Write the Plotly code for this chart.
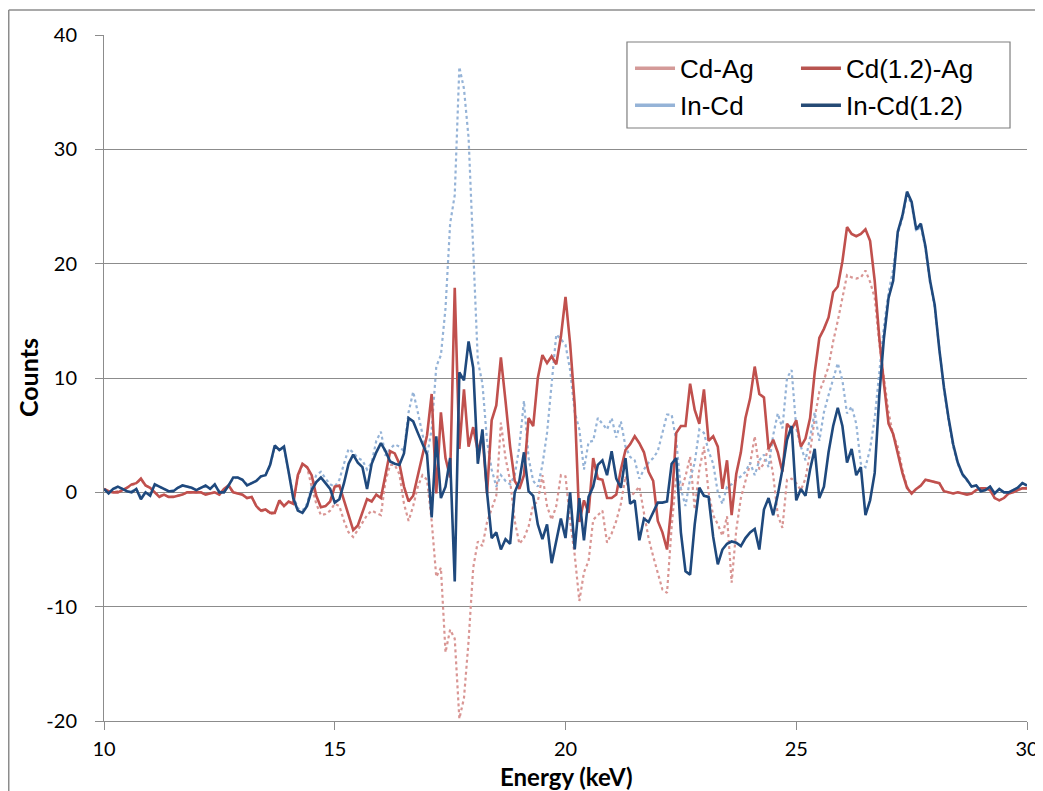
import plotly.graph_objects as go

# Energy grid (keV), 0.1 keV steps from 10 to 30
energy = [round(10 + 0.1 * i, 1) for i in range(201)]

cd_ag = [
    0.3, 0.1, 0.0, 0.1, 0.2, 0.4, 0.6, 0.8, 1.1, 0.6,
    0.4, 0.0, -0.3, -0.2, -0.4, -0.4, -0.3, -0.2, 0.0, 0.0,
    0.0, 0.0, -0.2, -0.1, 0.0, -0.2, 0.3, 0.5, 0.0, -0.1,
    -0.2, -0.5, -0.4, -1.2, -1.7, -1.5, -1.9, -1.8, -0.8, -1.2,
    -0.8, -1.0, 1.3, 2.4, 2.2, 0.5, -1.0, -2.0, -1.9, -1.6,
    -1.0, -1.2, -2.5, -3.5, -3.9, -3.3, -2.6, -2.0, -1.6, -1.8,
    -2.0, 1.0, 2.4, 2.4, 1.6, -1.0, -2.5, -1.2, 0.5, 1.5,
    1.1, -2.5, -7.4, -6.6, -14.0, -12.0, -12.8, -19.8, -18.0, -13.0,
    -6.6, -4.3, -4.7, -2.6, -1.5, -0.3, 6.1, 3.0, 1.0, -2.5,
    -4.5, -4.0, -3.0, -1.1, -0.8, 1.5, -1.2, -2.4, -1.2, 1.5,
    1.4, -2.5, -5.5, -9.5, -7.0, -6.0, -2.4, -2.0, -1.6, -4.4,
    -3.6, -2.5, -1.0, 1.4, -0.4, 0.0, 0.5, -1.8, -4.0, -5.6,
    -7.0, -8.5, -8.8, -3.0, 1.4, 0.2, 1.4, 3.1, -1.5, 2.0,
    4.0, 0.0, -2.0, -2.8, -3.8, -2.1, -7.9, -3.3, -0.5, 1.0,
    2.5, 4.9, 2.0, 2.5, 4.0, 1.5, -2.0, -3.1, 1.1, 1.2,
    0.8, 0.2, 1.2, 3.5, 6.5, 8.8, 9.8, 11.0, 13.2, 15.0,
    17.0, 19.0, 18.8, 18.7, 18.8, 19.4, 18.4, 17.0, 13.0, 10.0,
    7.0, 5.0, 4.0, 2.0, 0.5, -0.1, 0.3, 0.6, 1.1, 1.0,
    0.9, 0.8, 0.1, 0.0, -0.1, 0.0, -0.1, -0.2, -0.1, 0.2,
    0.35, 0.35, 0.2, -0.5, -0.7, -0.5, -0.1, 0.0, 0.2, 0.35,
    0.35,
]

cd12_ag = [
    0.3, 0.1, 0.0, 0.0, 0.2, 0.4, 0.7, 0.8, 1.2, 0.6,
    0.4, 0.0, -0.4, -0.2, -0.4, -0.4, -0.3, -0.2, 0.0, 0.0,
    0.0, 0.0, -0.2, -0.1, 0.0, -0.2, 0.3, 0.6, 0.0, -0.1,
    -0.2, -0.5, -0.4, -1.2, -1.6, -1.5, -1.8, -1.8, -0.7, -1.2,
    -0.8, -1.0, 1.5, 2.5, 2.2, 1.5, -0.3, -1.3, -1.2, -0.8,
    0.5, 0.6, -0.7, -2.0, -3.3, -2.9, -1.8, -0.6, -0.8, -0.2,
    -0.5, 1.5, 3.6, 3.4, 2.5, 0.5, -0.8, -0.3, 1.5, 3.2,
    5.0, 8.6, -0.1, 7.0, 3.0, 1.3, 17.9, 3.8, 9.0, 4.0,
    5.7, 3.6, 5.0, -0.1, 6.3, 7.6, 11.8, 8.0, 4.0, 1.0,
    0.3, 1.5, 6.5, 5.8, 10.0, 12.0, 11.3, 11.9, 11.2, 13.6,
    17.1, 13.0, 7.6, -2.6, -0.7, -1.8, 3.0, 1.2, 1.1, -0.5,
    -0.5, -0.2, 2.0, 3.7, 4.2, 4.9, 4.3, 3.5, 1.8, 1.0,
    -2.5, -3.5, -5.0, -1.0, 5.2, 5.8, 5.8, 9.5, 7.2, 6.0,
    9.0, 4.5, 4.9, 4.0, 0.3, 2.8, -2.0, 1.6, 3.5, 6.5,
    8.2, 11.0, 8.6, 8.3, 3.8, 4.6, 3.5, 1.8, 6.0, 5.5,
    6.3, 4.0, 4.7, 6.5, 10.5, 13.5, 14.3, 15.3, 17.5, 18.0,
    20.2, 23.2, 22.6, 22.4, 22.6, 23.0, 22.0, 18.5, 13.5, 9.5,
    6.0, 5.1, 3.3, 1.7, 0.4, -0.1, 0.3, 0.6, 1.1, 1.0,
    0.9, 0.8, 0.1, 0.0, -0.1, 0.0, -0.1, -0.2, -0.1, 0.2,
    0.35, 0.35, 0.2, -0.5, -0.7, -0.5, -0.1, 0.0, 0.2, 0.35,
    0.35,
]

in_cd = [
    0.3, 0.0, 0.3, 0.4, 0.3, 0.1, 0.1, 0.3, -0.4, 0.0,
    -0.2, 0.6, 0.5, 0.3, 0.1, 0.2, 0.4, 0.6, 0.5, 0.4,
    0.2, 0.4, 0.5, 0.3, 0.6, 0.1, 0.1, 0.6, 1.2, 1.3,
    1.1, 0.7, 0.8, 1.0, 1.4, 1.5, 2.3, 4.0, 3.7, 3.9,
    1.9, -0.3, -1.4, -1.6, -1.0, 0.5, 1.5, 1.8, 1.2, 0.7,
    0.5, 1.1, 2.5, 3.8, 3.5, 3.0, 2.8, 2.0, 2.6, 4.5,
    5.3, 3.2, 3.8, 4.2, 4.0, 3.6, 7.0, 8.8, 7.0, 5.0,
    3.2, 5.5, 11.0, 12.0, 16.1, 23.5, 26.0, 37.2, 35.3, 31.0,
    21.0, 11.5, 9.5, 4.5, 2.0, 0.5, 1.5, 1.0, 0.7, 1.5,
    4.0, 8.0, 3.0, 1.0, 0.5, 2.4, 5.2, 9.5, 13.8, 13.4,
    12.9, 10.7, 7.0, 5.5, 2.0, 4.4, 4.5, 6.5, 6.0, 5.5,
    6.5, 4.8, 6.2, 4.0, 3.1, 2.8, 1.2, 2.0, 2.6, 3.0,
    3.6, 5.3, 6.8, 6.8, 4.5, 0.3, -1.2, 1.2, 2.6, 5.5,
    5.2, 3.6, 2.5, 0.0, -1.0, 0.5, 0.7, 1.1, 1.4, 1.8,
    2.6, 1.5, 2.8, 3.3, 2.2, 5.0, 6.9, 5.6, 10.0, 10.7,
    5.6, 4.0, 2.8, 4.8, 7.0, 4.5, 7.0, 8.5, 10.0, 11.3,
    9.8, 6.9, 7.5, 6.0, 2.5, 2.2, 3.8, 6.5, 10.5, 14.5,
    17.5, 19.5, 22.6, 24.0, 26.0, 25.2, 22.8, 23.3, 21.3, 18.3,
    16.2, 12.3, 9.0, 6.3, 4.0, 2.5, 1.5, 1.0, 0.5, 0.6,
    0.1, 0.2, 0.5, -0.1, 0.3, 0.0, 0.0, 0.2, 0.4, 0.8,
    0.6,
]

in_cd12 = [
    0.3, -0.1, 0.3, 0.5, 0.3, 0.1, 0.0, 0.3, -0.6, 0.0,
    -0.3, 0.7, 0.5, 0.3, 0.1, 0.1, 0.4, 0.6, 0.5, 0.4,
    0.2, 0.4, 0.6, 0.3, 0.7, 0.0, 0.0, 0.6, 1.3, 1.3,
    1.1, 0.6, 0.8, 1.0, 1.4, 1.5, 2.4, 4.1, 3.7, 4.0,
    1.8, -0.5, -1.6, -1.8, -1.2, 0.2, 0.9, 1.3, 0.8, 0.3,
    -0.9, -0.6, 0.8, 2.5, 3.3, 2.6, 2.2, 0.3, 2.5, 3.5,
    4.3, 3.6, 2.7, 2.5, 2.4, 3.4, 6.5, 6.2, 5.2, 4.3,
    3.3, -2.2, 4.9, -0.5, 0.5, 3.0, -7.8, 10.5, 9.8, 13.2,
    10.9, 2.5, 5.5, 0.0, -4.0, -3.5, -5.0, -4.1, -4.5, 0.0,
    1.0, 3.5, 0.1, -0.3, -2.8, -4.1, -2.8, -6.2, -4.4, -2.3,
    -4.0, 0.0, -5.0, -0.5, -4.2, -0.4, 0.5, 2.4, 2.8, 1.5,
    3.6, 1.2, 0.4, 3.0, -1.0, -0.7, -4.2, -2.3, -2.6, -1.8,
    -0.9, -0.9, -0.8, 2.5, 3.0, -3.5, -6.9, -7.2, -2.8, 0.4,
    -0.3, -0.4, -3.9, -6.3, -5.0, -4.5, -4.3, -4.4, -4.7, -4.0,
    -3.5, -3.2, -5.0, -1.5, -0.5, -2.0, -0.2, 2.0, 4.6, 5.8,
    -0.7, 0.3, -0.3, 2.0, 3.8, -0.5, 0.5, 3.5, 5.8, 7.4,
    5.8, 2.6, 3.8, 1.5, 2.2, -2.0, -0.7, 1.7, 8.5, 13.5,
    17.0, 18.5, 22.8, 24.2, 26.3, 25.4, 23.0, 23.5, 21.5, 18.5,
    16.4, 12.5, 9.2, 6.5, 4.2, 2.6, 1.6, 1.1, 0.5, 0.6,
    0.1, 0.2, 0.5, -0.1, 0.3, 0.0, 0.0, 0.2, 0.4, 0.8,
    0.6,
]

series_names = ["Cd-Ag", "Cd(1.2)-Ag", "In-Cd", "In-Cd(1.2)"]
x_ticks = [10, 15, 20, 25, 30]
y_ticks = [-20, -10, 0, 10, 20, 30, 40]

c_cdag = "#d99694"
c_cd12 = "#c0504d"
c_incd = "#95b3d7"
c_in12 = "#1f497d"
grid_c = "#8c8c8c"

fig = go.Figure()
fig.add_trace(go.Scatter(x=energy, y=cd_ag, mode="lines", showlegend=False,
                         line=dict(color=c_cdag, width=2.2, dash="dot")))
fig.add_trace(go.Scatter(x=energy, y=in_cd, mode="lines", showlegend=False,
                         line=dict(color=c_incd, width=2.2, dash="dot")))
fig.add_trace(go.Scatter(x=energy, y=cd12_ag, mode="lines", showlegend=False,
                         line=dict(color=c_cd12, width=2.6)))
fig.add_trace(go.Scatter(x=energy, y=in_cd12, mode="lines", showlegend=False,
                         line=dict(color=c_in12, width=2.6)))

# legend entries (solid samples, two columns via two legends)
legend_cols = ["#d49a98", "#b85450", "#95b3d7", "#254a75"]
legend_ids = ["legend", "legend2", "legend", "legend2"]
for name, col, lg in zip(series_names, legend_cols, legend_ids):
    fig.add_trace(go.Scatter(x=[None], y=[None], mode="lines", name=name,
                             legend=lg, line=dict(color=col, width=3.5)))

# legend frame
fig.add_shape(type="rect", xref="paper", yref="paper", layer="above",
              x0=0.5666, x1=0.9816, y0=0.8644, y1=0.9898,
              fillcolor="white", line=dict(color="#7f7f7f", width=1.2))

# outer chart border (top and left edges visible)
fig.add_shape(type="line", xref="paper", yref="paper",
              x0=-0.1032, x1=1.05, y0=1.0364, y1=1.0364,
              line=dict(color="#8c8c8c", width=1.5))
fig.add_shape(type="line", xref="paper", yref="paper",
              x0=-0.1032, x1=-0.1032, y0=1.0364, y1=-0.2,
              line=dict(color="#8c8c8c", width=1.5))

# axis titles
fig.add_annotation(text="<b>Energy (keV)</b>", xref="paper", yref="paper",
                   x=0.5, y=-0.0809, xanchor="center", yanchor="middle",
                   showarrow=False, font=dict(size=24, family="Lato", color="#000"))
fig.add_annotation(text="<b>Counts</b>", xref="paper", yref="paper",
                   x=-0.0823, y=0.5, xanchor="center", yanchor="middle",
                   textangle=-90, showarrow=False,
                   font=dict(size=25, family="Lato", color="#000"))

legend_common = dict(
    orientation="v", yanchor="top", xanchor="left",
    bgcolor="rgba(0,0,0,0)", borderwidth=0,
    font=dict(family="'Liberation Sans', Arial, sans-serif", size=26, color="#000"),
    itemwidth=40, tracegroupgap=0,
)

# the page body has an 8px margin, so the figure is sized to fit the window
fig.update_layout(
    width=1035, height=783,
    margin=dict(l=96, r=16, t=27, b=70, autoexpand=False),
    paper_bgcolor="white", plot_bgcolor="white",
    font=dict(family="Lato, 'Liberation Sans', sans-serif", color="#000000"),
    legend=dict(x=0.5699, y=0.9855, **legend_common),
    legend2=dict(x=0.7497, y=0.9855, **legend_common),
    xaxis=dict(
        range=[10, 30], tickvals=x_ticks, ticktext=[str(v) for v in x_ticks],
        showgrid=False, zeroline=False, automargin=False,
        showline=True, linecolor=grid_c, linewidth=1,
        ticks="outside", ticklen=8, tickcolor=grid_c, tickwidth=1,
        tickfont=dict(size=20, family="Lato"), ticklabelstandoff=2,
    ),
    yaxis=dict(
        range=[-20, 40], tickvals=y_ticks, ticktext=[str(v) for v in y_ticks],
        showgrid=True, gridcolor=grid_c, gridwidth=1, zeroline=False,
        automargin=False,
        showline=True, linecolor=grid_c, linewidth=1,
        ticks="outside", ticklen=8, tickcolor=grid_c, tickwidth=1,
        tickfont=dict(size=20, family="Lato"), ticklabelstandoff=14,
    ),
)

fig.write_html("out.html")
